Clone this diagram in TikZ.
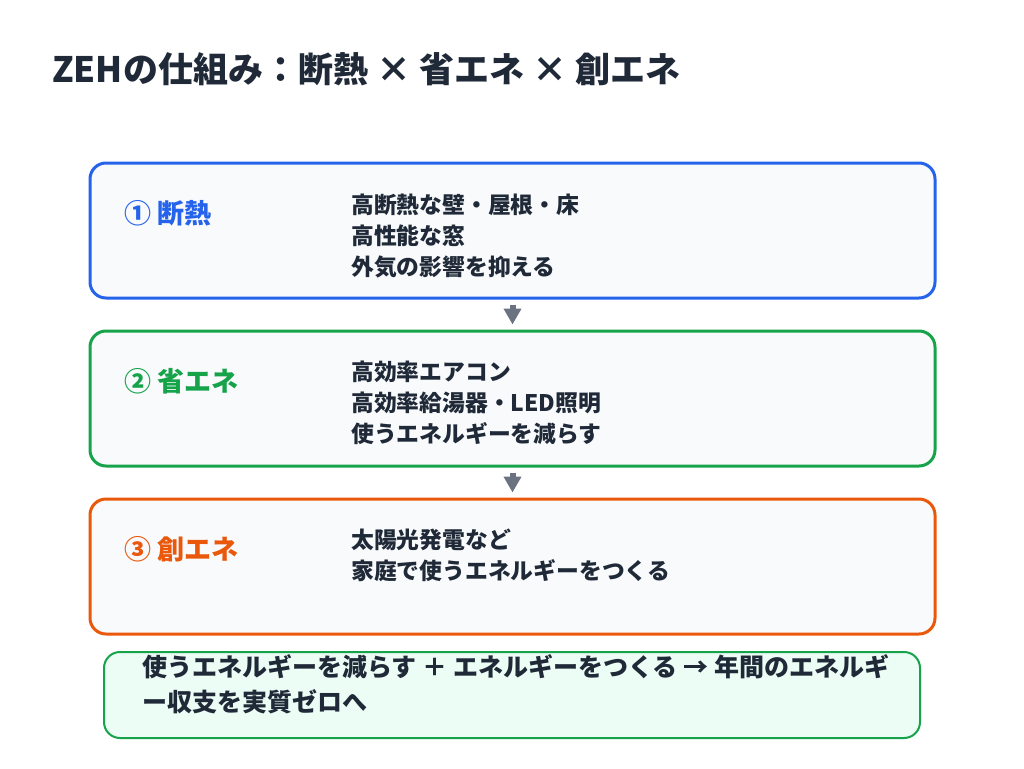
\documentclass[tikz,border=0pt]{standalone}
\usepackage{fontspec}
\setmainfont{Noto Sans CJK JP}
\usetikzlibrary{arrows.meta}
\definecolor{ink}{HTML}{1F2937}
\definecolor{cblue}{HTML}{2563EB}
\definecolor{cgreen}{HTML}{16A34A}
\definecolor{corange}{HTML}{EA580C}
\definecolor{cgray}{HTML}{6B7280}
\definecolor{boxfill}{HTML}{F8FAFC}
\definecolor{sumfill}{HTML}{ECFDF5}
\begin{document}
\begin{tikzpicture}[x=1pt,y=-1pt,
  stagebox/.style={draw=#1,line width=3pt,fill=boxfill,rounded corners=16pt,minimum width=845pt,minimum height=135pt,inner sep=0pt},
  stagelabel/.style={text=#1,anchor=west,inner sep=0pt,font=\fontsize{27}{30}\selectfont\bfseries},
  stagetext/.style={text=ink,anchor=north west,align=left,inner sep=0pt,font=\fontsize{22.8}{31}\selectfont\bfseries},
  flow/.style={draw=cgray,line width=6pt,-{Triangle[width=17pt,length=16pt]},shorten >=5pt,shorten <=5pt}
]
\useasboundingbox[fill=white] (0,0) rectangle (1024,768);
\node[anchor=west,text=ink,inner sep=0pt,font=\fontsize{35}{40}\selectfont\bfseries] (title) at (52,69) {ZEHの仕組み：断熱 × 省エネ × 創エネ};

\node[stagebox=cblue] (b1) at (512.5,230.5) {};
\node[stagebox=cgreen] (b2) at (512.5,398.5) {};
\node[stagebox=corange] (b3) at (512.5,566.5) {};

\node[stagelabel=cblue] (l1) at (124,213) {① 断熱};
\node[stagelabel=cgreen] (l2) at (124,381) {② 省エネ};
\node[stagelabel=corange] (l3) at (124,549) {③ 創エネ};

\node[stagetext] (t1) at (351,194) {高断熱な壁・屋根・床\\高性能な窓\\外気の影響を抑える};
\node[stagetext] (t2) at (351,361) {高効率エアコン\\高効率給湯器・LED照明\\使うエネルギーを減らす};
\node[stagetext] (t3) at (351,529) {太陽光発電など\\家庭で使うエネルギーをつくる};

\draw[flow] (b1.south) -- (b2.north);
\draw[flow] (b2.south) -- (b3.north);

\node[draw=cgreen,line width=2pt,fill=sumfill,rounded corners=16pt,minimum width=816pt,minimum height=86pt,inner sep=0pt] (sum) at (512,695) {};
\node[text=ink,anchor=north west,align=left,inner sep=0pt,font=\fontsize{25}{35}\selectfont\bfseries] (sumtext) at (142,654) {使うエネルギーを減らす ＋ エネルギーをつくる → 年間のエネルギ\\ー収支を実質ゼロへ};
\end{tikzpicture}
\end{document}
